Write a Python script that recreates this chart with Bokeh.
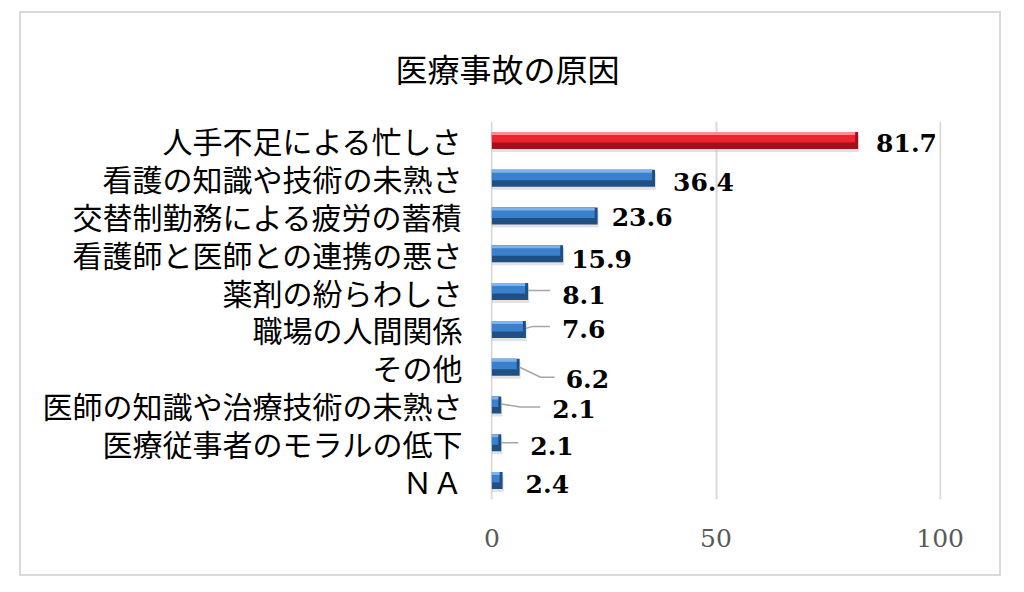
from bokeh.plotting import figure
from bokeh.models import FixedTicker, Range1d
from bokeh.core.properties import value
from bokeh.embed import file_html
from bokeh.resources import INLINE

# ---- data (top to bottom) ----
categories = ["人手不足による忙しさ", "看護の知識や技術の未熟さ", "交替制勤務による疲労の蓄積",
              "看護師と医師との連携の悪さ", "薬剤の紛らわしさ", "職場の人間関係", "その他",
              "医師の知識や治療技術の未熟さ", "医療従事者のモラルの低下", "ＮＡ"]
values = [81.7, 36.4, 23.6, 15.9, 8.1, 7.6, 6.2, 2.1, 2.1, 2.4]
x_ticks = [0, 50, 100]
title_text = "医療事故の原因"

# ---- layout / style ----
label_dx = [18, 18, 14, 8, 34, 36, 46, 51, 29, 23]   # px from bar end
label_dy = [3, 4, 1, 5, 3, 0, 12, 4, 3, 3]            # px below bar centre
leaders = [None, None, None, None,
           [(0, -1), (22, -1)],
           [(0, -1), (7, -3), (24, -3)],
           [(0, 0), (21, 10), (35, 10)],
           [(0, -1), (19, 2), (39, 2)],
           [(0, 0), (17, 0)],
           None]

n = len(categories)
ypos = [n - 1 - i for i in range(n)]

W, H = 982, 565
x0, x1 = -0.3, 100.3
frame_w = 451
frame_h = 378
mb_left = 471
mb_top = 110
pxu = frame_w / (x1 - x0)
pyu = frame_h / n

p = figure(width=W, height=H, output_backend="svg", toolbar_location=None,
           x_range=Range1d(x0, x1), y_range=Range1d(-0.5, n - 0.5),
           min_border_left=mb_left, min_border_right=W - mb_left - frame_w,
           min_border_top=mb_top, min_border_bottom=H - mb_top - frame_h)
p.margin = (11, 0, 0, 19)
p.styles = {"box-shadow": "inset 0 0 0 2px #d9d9d9", "background-color": "white"}
p.background_fill_color = "white"
p.border_fill_color = None
p.outline_line_color = None

# title
p.title.text = title_text
p.title.align = "left"
p.title.vertical_align = "top"
p.title.offset = -95
p.title.standoff = 58
p.title.text_font = "Noto Sans CJK JP"
p.title.text_font_size = "32px"
p.title.text_font_style = "normal"
p.title.text_color = "#000000"

# grid
p.ygrid.grid_line_color = None
p.xgrid.ticker = FixedTicker(ticks=x_ticks)
p.xgrid.grid_line_color = "#d9d9d9"
p.xgrid.grid_line_width = 2

# axes
p.xaxis.ticker = FixedTicker(ticks=x_ticks)
p.xaxis.axis_line_color = None
p.xaxis.major_tick_line_color = None
p.xaxis.minor_tick_line_color = None
p.xaxis.major_label_standoff = 23
p.xaxis.major_label_text_font = "DejaVu Serif"
p.xaxis.major_label_text_font_size = "25px"
p.xaxis.major_label_text_color = "#595959"

p.yaxis.ticker = FixedTicker(ticks=ypos)
p.yaxis.major_label_overrides = {y: c for y, c in zip(ypos, categories)}
p.yaxis.axis_line_color = None
p.yaxis.major_tick_line_color = None
p.yaxis.minor_tick_line_color = None
p.yaxis.major_label_standoff = 22
p.yaxis.major_label_text_font = "Noto Sans CJK JP"
p.yaxis.major_label_text_font_size = "30px"
p.yaxis.major_label_text_color = "#000000"

# bars
bh_px = 17.0
bh = bh_px / pyu
base_cols = ["#a3101a" if i == 0 else "#1f4f85" for i in range(n)]
mid_cols = ["#f0242e" if i == 0 else "#3b80cc" for i in range(n)]
top_cols = ["#ff8a90" if i == 0 else "#7db3ea" for i in range(n)]
inset = 3 / pxu
inner_right = [v - inset for v in values]

p.hbar(y=[y - 3 / pyu for y in ypos], left=0, right=[v + 1 / pxu for v in values],
       height=bh, fill_color="#bfbfbf", fill_alpha=0.45, line_color=None)
p.hbar(y=ypos, left=0, right=values, height=bh, fill_color=base_cols, line_color=None)
mid_h = 10.5 / pyu
p.hbar(y=[y + (bh_px / 2 - 5.25) / pyu for y in ypos], left=0, right=inner_right,
       height=mid_h, fill_color=mid_cols, line_color=None)
top_h = 3.0 / pyu
p.hbar(y=[y + (bh_px / 2 - 1.5) / pyu for y in ypos], left=0, right=inner_right,
       height=top_h, fill_color=top_cols, line_color=None)

# leader lines
lx, ly = [], []
for v, y, ld in zip(values, ypos, leaders):
    if ld:
        lx.append([v + dx / pxu for dx, dy in ld])
        ly.append([y - dy / pyu for dx, dy in ld])
p.multi_line(xs=lx, ys=ly, line_color="#a6a6a6", line_width=1.5)

# data labels
p.text(x=values, y=ypos, text=[f"{v:.1f}" for v in values],
       x_offset=label_dx, y_offset=label_dy,
       text_font=value("DejaVu Serif"), text_font_style="bold",
       text_font_size="25px", text_color="#000000",
       text_align="left", text_baseline="middle")

open("out.html", "w").write(file_html(p, INLINE))
